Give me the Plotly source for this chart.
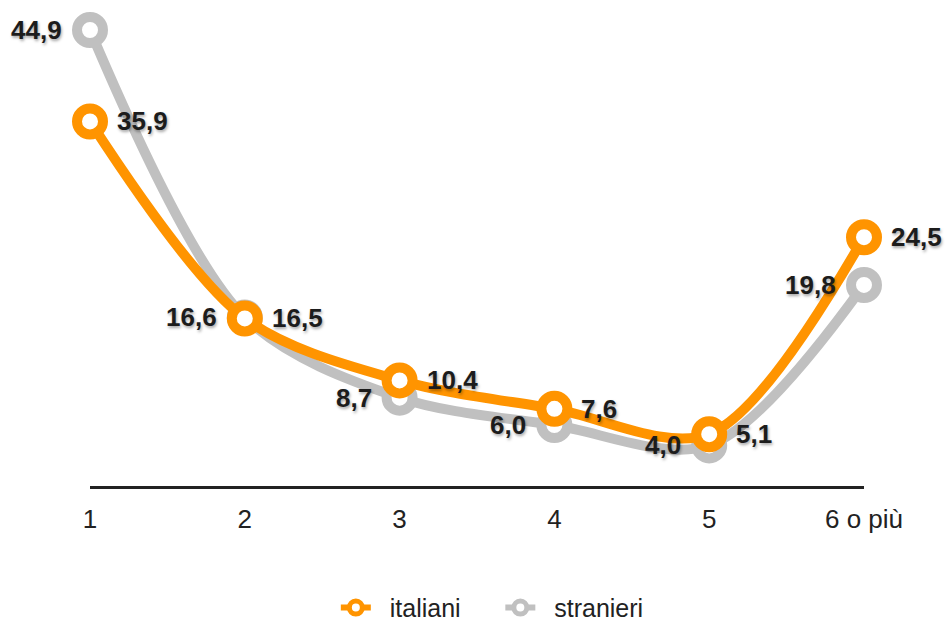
import plotly.graph_objects as go

# Number of components per household
categories = ["1", "2", "3", "4", "5", "6 o più"]
italiani = [35.9, 16.5, 10.4, 7.6, 5.1, 24.5]
stranieri = [44.9, 16.6, 8.7, 6.0, 4.0, 19.8]

ORANGE = "#FF9400"
GREY = "#C0C0C0"
FONT = "Liberation Sans"
xs = list(range(len(categories)))
NBSP = "\u00a0"


def fmt(v):
    return f"{v:.1f}".replace(".", ",")


fig = go.Figure()

# grey series drawn first so the orange one sits on top
for vals, color in [(stranieri, GREY), (italiani, ORANGE)]:
    fig.add_trace(go.Scatter(
        x=xs, y=vals, mode="lines+markers", showlegend=False,
        line=dict(color=color, width=10, shape="spline", smoothing=0.9),
        marker=dict(symbol="circle", size=26, color="white",
                    line=dict(color=color, width=10)),
        cliponaxis=False, hoverinfo="skip",
    ))

# compact legend entries (padding spaces set the spacing between them)
for name, color, trail in [("italiani", ORANGE, 5), ("stranieri", GREY, 0)]:
    fig.add_trace(go.Scatter(
        x=[None], y=[None], mode="lines+markers",
        name=NBSP * 2 + name + NBSP * trail,
        line=dict(color=color, width=6),
        marker=dict(symbol="circle", size=13, color="white",
                    line=dict(color=color, width=5)),
    ))

label_font = dict(family=FONT, size=26, color="#1c1c1c", weight="bold",
                  shadow="1px 2px 3px rgba(0,0,0,0.35)")

for x, v in zip(xs, stranieri):
    fig.add_annotation(x=x, y=v, text=fmt(v), showarrow=False,
                       xanchor="right", yanchor="middle", xshift=-26,
                       font=label_font)
for x, v in zip(xs, italiani):
    fig.add_annotation(x=x, y=v, text=fmt(v), showarrow=False,
                       xanchor="left", yanchor="middle", xshift=25,
                       font=label_font)

fig.update_layout(
    width=946, height=626,
    margin=dict(l=90, r=82, t=30, b=140, autoexpand=False),
    paper_bgcolor="white", plot_bgcolor="white",
    font=dict(family=FONT, size=26, color="#222"),
    showlegend=True,
    legend=dict(orientation="h", x=0.355, xanchor="left", xref="container",
                y=0.029, yanchor="middle", yref="container",
                font=dict(size=25, color="#222")),
    xaxis=dict(range=[0, 5], tickvals=xs, ticktext=categories,
               showgrid=False, zeroline=False, showline=True,
               linecolor="#222", linewidth=3, ticks="",
               ticklabelstandoff=8, fixedrange=True),
    yaxis=dict(range=[0, 44.9], visible=False, fixedrange=True),
)

fig.write_html("out.html")
